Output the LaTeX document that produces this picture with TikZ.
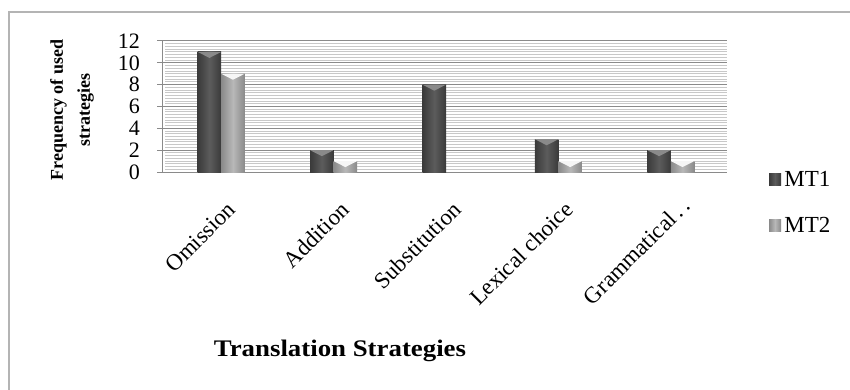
\documentclass[tikz,border=0pt]{standalone}
\usepackage{fontspec}
\setmainfont{Liberation Serif}
\usetikzlibrary{positioning}
\definecolor{framegray}{HTML}{B4B4B4}
\definecolor{hatchgray}{HTML}{C8C8C8}
\definecolor{majorgray}{HTML}{8A8A8A}
\definecolor{mtonedark}{HTML}{3A3A3A}
\definecolor{mtonemid}{HTML}{5C5C5C}
\definecolor{mtonetop}{HTML}{8A8A8A}
\definecolor{mttwodark}{HTML}{8A8A8A}
\definecolor{mttwomid}{HTML}{B8B8B8}
\definecolor{mttwotop}{HTML}{F6F6F6}

% one bar: left edge, value, body style, top colour
\newcommand{\drawbar}[4]{%
  \fill[#3] (#1,0) rectangle ++(0.209,#2);
  \fill[#4] (#1,#2) -- ++(0.209,0) -- ++(-0.1045,-0.55) -- cycle;
}

\begin{document}
\begin{tikzpicture}[%
        x=1pt, y=-1pt,
        every node/.style={inner sep=0pt},
        ticklabel/.style={anchor=east, font=\fontsize{22}{24}\selectfont},
        catlabel/.style={anchor=north east, rotate=45, font=\fontsize{23}{24}\selectfont},
        axistitle/.style={font=\bfseries\fontsize{22}{24}\selectfont},
        legend/.style={font=\fontsize{23}{24}\selectfont},
        mtone/.style={left color=mtonedark, right color=mtonedark, middle color=mtonemid},
        mttwo/.style={left color=mttwodark, right color=mttwodark, middle color=mttwomid},
        keybox/.style={rectangle, minimum size=12pt}
      ]
      \useasboundingbox (0,0) rectangle (850,390);
      \draw[framegray, line width=1.5pt] (9,390) -- (9,12) -- (850,12);

      \begin{scope}[shift={(165,172)}, x=112.4pt, y=10.917pt]
        \foreach \v in {0,0.25,...,12}
          \draw[hatchgray, line width=1pt] (0,\v) -- (5,\v);
        \foreach \v in {0,2,...,12} {
          \draw[majorgray, line width=1pt] (-0.07,\v) -- (5,\v);
          \node (t\v) [ticklabel] at (-0.222,\v) {\v};
        }
        \draw[majorgray, line width=1pt] (-0.018,0) -- (-0.018,12);
        \foreach \i/\a/\b in {1/11/9, 2/2/1, 3/8/0, 4/3/1, 5/2/1} {
          \drawbar{\i-0.709}{\a}{mtone}{mtonetop}
          \ifnum\b>0
            \drawbar{\i-0.5}{\b}{mttwo}{mttwotop}
          \fi
        }
      \end{scope}

      \node (c1) [catlabel] at (226,200) {Omission};
      \node (c2) [catlabel] at (339,200) {Addition};
      \node (c3) [catlabel] at (451,200) {Substitution};
      \node (c4) [catlabel] at (563,200) {Lexical choice};
      \node (c5) [catlabel] at (680,196) {Grammatical\,.\,.};

      \node (ytitle) [rotate=90, align=center, font=\bfseries\fontsize{18}{27}\selectfont]
        at (72,110) {Frequency of used\\strategies};
      \node (xtitle) [axistitle] at (340,351) {\scalebox{1.22}[1.08]{Translation Strategies}};

      \node (mtonekey) [keybox, mtone] at (775,179) {};
      \node (mtonelabel) [legend, right=3pt of mtonekey] {MT1};
      \node (mttwokey) [keybox, mttwo] at (775,225) {};
      \node (mttwolabel) [legend, right=3pt of mttwokey] {MT2};
    \end{tikzpicture}
\end{document}
